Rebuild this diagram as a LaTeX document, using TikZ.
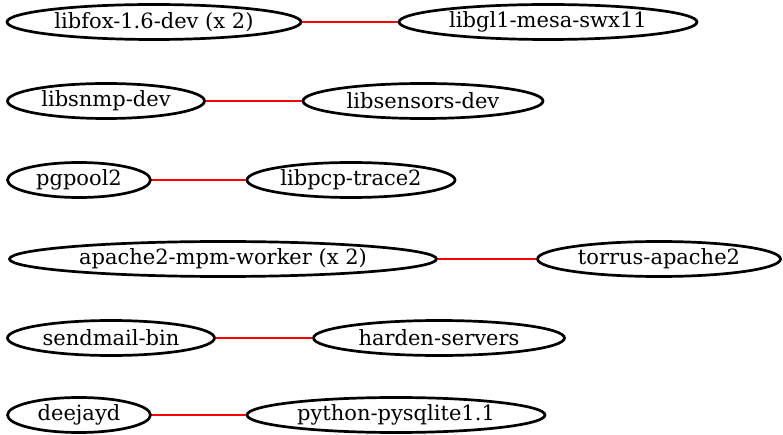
\documentclass[tikz,border=0pt]{standalone}
\usepackage{fontspec}
\setmainfont{DejaVu Serif}
\usetikzlibrary{shapes.geometric}
\tikzset{
  pkg/.style={draw=black, line width=2.7pt, ellipse, inner sep=0pt, minimum height=35pt},
  dep/.style={draw=red, line width=2.5pt}
}
\newcommand{\lbl}[1]{\makebox[0pt]{\fontsize{21}{24}\selectfont #1}}
\begin{document}
\begin{tikzpicture}[x=1pt,y=-1pt]
\useasboundingbox (0,0) rectangle (783,435);
\node[pkg, minimum width=294pt] (a1) at (154,22) {\lbl{libfox-1.6-dev (x 2)}};
\node[pkg, minimum width=298pt] (a2) at (548,22) {\lbl{libgl1-mesa-swx11}};
\node[pkg, minimum width=197pt] (b1) at (106,101) {\lbl{libsnmp-dev}};
\node[pkg, minimum width=240pt] (b2) at (423,101) {\lbl{libsensors-dev}};
\node[pkg, minimum width=143pt] (c1) at (79,180) {\lbl{pgpool2}};
\node[pkg, minimum width=208pt] (c2) at (351,180) {\lbl{libpcp-trace2}};
\node[pkg, minimum width=427pt] (d1) at (223,259) {\lbl{apache2-mpm-worker (x 2)}};
\node[pkg, minimum width=243pt] (d2) at (659,259) {\lbl{torrus-apache2}};
\node[pkg, minimum width=207pt] (e1) at (111,338) {\lbl{sendmail-bin}};
\node[pkg, minimum width=251pt] (e2) at (439,338) {\lbl{harden-servers}};
\node[pkg, minimum width=143pt] (f1) at (79,415) {\lbl{deejayd}};
\node[pkg, minimum width=298pt] (f2) at (396,415) {\lbl{python-pysqlite1.1}};
\draw[dep] (a1) -- (a2);
\draw[dep] (b1) -- (b2);
\draw[dep] (c1) -- (c2);
\draw[dep] (d1) -- (d2);
\draw[dep] (e1) -- (e2);
\draw[dep] (f1) -- (f2);
\end{tikzpicture}
\end{document}
